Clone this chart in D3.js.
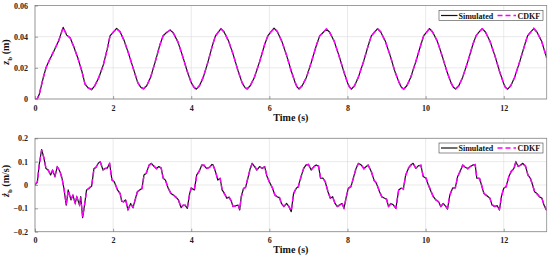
<!DOCTYPE html>
<html><head><meta charset="utf-8">
<script src="https://cdn.jsdelivr.net/npm/d3@7"></script>
<style>
html,body{margin:0;padding:0;background:#fff;}
svg{display:block;font-family:"Liberation Serif","Times New Roman",serif;font-weight:bold;}
</style></head>
<body><svg id="c" width="550" height="259"></svg>
<script>
// ---------- DATA ----------
const xTicks = [0, 2, 4, 6, 8, 10, 12];
const yTicksTop = [0, 0.02, 0.04, 0.06];
const yTickLabelsTop = ["0", "0.02", "0.04", "0.06"];
const yTicksBot = [-0.2, -0.1, 0, 0.1, 0.2];
const yTickLabelsBot = ["\u22120.2", "\u22120.1", "0", "0.1", "0.2"];
const seriesNames = ["Simulated", "CDKF"];

const timePos = [
 0,0.06,0.11,0.2,0.28,0.37,0.47,0.6,0.72,0.81,0.9,1.0,1.11,1.2,1.28,1.36,
 1.45,1.53,1.63,1.75,1.85,1.92,2.0,2.09,2.18,2.29,2.41,2.53,2.63,2.71,
 2.78,2.86,2.96,3.08,3.2,3.28,3.36,3.46,3.54,3.66,3.78,3.9,4.0,4.07,
 4.13,4.21,4.31,4.43,4.55,4.62,4.68,4.76,4.84,4.96,5.08,5.2,5.3,5.37,
 5.43,5.51,5.62,5.75,5.88,5.96,6.03,6.12,6.2,6.32,6.44,6.56,6.66,6.71,
 6.76,6.84,6.95,7.08,7.21,7.29,7.37,7.46,7.54,7.66,7.78,7.9,8.0,8.05,
 8.1,8.18,8.28,8.41,8.54,8.61,8.68,8.77,8.85,8.97,9.09,9.21,9.32,9.38,
 9.44,9.52,9.62,9.75,9.88,9.95,10.02,10.1,10.18,10.3,10.42,10.54,10.65,10.71,
 10.77,10.85,10.95,11.08,11.21,11.29,11.36,11.45,11.53,11.65,11.77,11.89,11.99,12.04,
 12.1,12.18,12.28,12.41,12.54,12.61,12.68,12.77,12.85,12.97,13.1
];
const simPos = [
 0,0.0002,0.003,0.0125,0.02,0.025,0.030,0.037,0.046,0.041,0.0393,0.033,0.0253,0.0178,0.0095,0.0072,
 0.006,0.0085,0.0135,0.022,0.032,0.0405,0.0427,0.0453,0.043,0.037,0.028,0.0185,0.0105,0.0075,
 0.0065,0.0085,0.014,0.024,0.035,0.0405,0.0425,0.0442,0.0425,0.0365,0.0275,0.0175,0.0105,0.0075,
 0.0063,0.0085,0.014,0.024,0.035,0.0405,0.0425,0.0452,0.043,0.037,0.028,0.018,0.0105,0.0075,
 0.0064,0.0085,0.014,0.024,0.035,0.0405,0.0428,0.0455,0.0433,0.037,0.028,0.018,0.0105,0.0077,
 0.0065,0.0085,0.014,0.024,0.035,0.0405,0.0425,0.0448,0.043,0.037,0.028,0.018,0.0105,0.0077,
 0.0063,0.0085,0.014,0.024,0.035,0.0405,0.0425,0.0452,0.043,0.037,0.028,0.018,0.0105,0.0076,
 0.0064,0.0085,0.014,0.024,0.035,0.0405,0.0427,0.0452,0.043,0.037,0.028,0.018,0.0105,0.0076,
 0.0064,0.0085,0.014,0.024,0.035,0.0405,0.0427,0.0452,0.043,0.037,0.028,0.018,0.0105,0.0076,
 0.0063,0.0085,0.014,0.024,0.035,0.0405,0.0427,0.0452,0.043,0.037,0.0265
];
const cdkfPos = [
 0,0.0003,0.0032,0.0127,0.0198,0.0251,0.0302,0.0368,0.0458,0.0412,0.0391,0.0332,0.0251,0.0180,0.0097,0.0071,
 0.0061,0.0084,0.0137,0.0218,0.0322,0.0403,0.0428,0.0451,0.0432,0.0368,0.0282,0.0183,0.0107,0.0074,
 0.0066,0.0086,0.0138,0.0242,0.0348,0.0407,0.0424,0.0443,0.0423,0.0367,0.0273,0.0177,0.0103,0.0076,
 0.0062,0.0086,0.0142,0.0238,0.0352,0.0403,0.0426,0.0450,0.0432,0.0368,0.0282,0.0178,0.0107,0.0074,
 0.0065,0.0084,0.0142,0.0238,0.0352,0.0403,0.0429,0.0453,0.0435,0.0368,0.0282,0.0178,0.0107,0.0076,
 0.0064,0.0086,0.0138,0.0242,0.0348,0.0407,0.0423,0.0450,0.0428,0.0372,0.0278,0.0182,0.0103,0.0078,
 0.0064,0.0084,0.0142,0.0238,0.0352,0.0403,0.0427,0.0450,0.0432,0.0368,0.0282,0.0178,0.0107,0.0075,
 0.0063,0.0086,0.0138,0.0242,0.0348,0.0407,0.0425,0.0454,0.0428,0.0372,0.0278,0.0182,0.0103,0.0077,
 0.0065,0.0084,0.0142,0.0238,0.0352,0.0403,0.0429,0.0450,0.0432,0.0368,0.0282,0.0178,0.0107,0.0075,
 0.0064,0.0086,0.0138,0.0242,0.0348,0.0407,0.0425,0.0454,0.0428,0.0372,0.0263
];

const timeVel = [
 0,0.06,0.11,0.17,0.23,0.28,0.34,0.4,0.45,0.51,0.57,0.64,0.69,0.74,
 0.8,0.85,0.92,0.97,1.03,1.07,1.14,1.17,1.22,1.28,1.32,1.39,1.45,1.51,
 1.56,1.62,1.67,1.74,1.79,1.85,1.91,1.97,2.03,2.11,2.18,2.22,2.27,2.32,
 2.38,2.45,2.51,2.55,2.62,2.68,2.74,2.79,2.85,2.92,2.98,3.05,3.11,3.17,
 3.23,3.28,3.34,3.41,3.48,3.54,3.6,3.67,3.74,3.79,3.85,3.9,3.96,4.0,
 4.08,4.14,4.2,4.27,4.33,4.39,4.47,4.53,4.56,4.62,4.68,4.74,4.79,4.85,
 4.91,4.97,5.03,5.07,5.13,5.2,5.24,5.28,5.34,5.39,5.45,5.51,5.56,5.62,
 5.68,5.75,5.82,5.88,5.94,6.0,6.08,6.14,6.2,6.26,6.31,6.37,6.44,6.5,
 6.56,6.62,6.69,6.74,6.81,6.88,6.94,7.0,7.07,7.14,7.2,7.26,7.31,7.37,
 7.43,7.5,7.56,7.62,7.68,7.74,7.79,7.86,7.91,7.97,8.02,8.09,8.16,8.22,
 8.28,8.35,8.42,8.48,8.53,8.61,8.68,8.74,8.82,8.88,8.95,9.0,9.05,9.11,
 9.17,9.24,9.31,9.37,9.43,9.49,9.56,9.62,9.68,9.75,9.82,9.88,9.94,10.01,
 10.07,10.14,10.2,10.26,10.33,10.39,10.45,10.52,10.56,10.62,10.69,10.76,10.82,10.88,
 10.95,11.02,11.08,11.15,11.21,11.27,11.31,11.38,11.43,11.49,11.55,11.6,11.65,11.7,
 11.77,11.83,11.89,11.94,12.0,12.06,12.13,12.19,12.26,12.31,12.37,12.43,12.49,12.56,
 12.62,12.68,12.74,12.79,12.85,12.91,12.98,13.03,13.09,13.1
];
const simVel = [
 0,0.012,0.09,0.152,0.114,0.071,0.064,0.043,0.064,0.036,0.079,0.057,0.03,-0.014,
 -0.086,-0.021,-0.064,-0.043,-0.079,-0.05,-0.086,-0.05,-0.14,-0.071,-0.021,-0.014,-0.005,0.071,
 0.075,0.093,0.1,0.064,0.071,0.072,0.093,0.021,0.014,-0.021,-0.036,-0.07,-0.071,-0.064,
 -0.107,-0.079,-0.097,-0.071,-0.029,-0.021,-0.014,0.043,0.05,0.086,0.093,0.079,0.071,0.079,
 0.072,0.029,0.021,-0.014,-0.036,-0.043,-0.05,-0.064,-0.097,-0.086,-0.088,-0.1,-0.036,-0.014,
 -0.021,0.043,0.057,0.086,0.083,0.071,0.075,0.088,0.086,0.057,0.021,0.029,-0.021,-0.036,
 -0.057,-0.052,-0.071,-0.093,-0.089,-0.086,-0.107,-0.05,-0.014,-0.011,0.029,0.071,0.093,0.079,
 0.064,0.079,0.071,0.079,0.036,0.014,-0.014,-0.043,-0.05,-0.055,-0.079,-0.093,-0.079,-0.093,
 -0.114,-0.036,-0.014,-0.007,0.036,0.071,0.086,0.089,0.064,0.079,0.086,0.08,0.029,0.03,
 0.014,-0.029,-0.057,-0.05,-0.079,-0.093,-0.086,-0.079,-0.1,-0.05,-0.014,-0.007,0.036,0.071,
 0.093,0.086,0.071,0.079,0.086,0.057,0.021,0.007,-0.029,-0.05,-0.057,-0.06,-0.093,-0.079,
 -0.085,-0.1,-0.021,-0.014,-0.016,0.043,0.071,0.086,0.093,0.071,0.083,0.083,0.036,0.029,
 0,-0.029,-0.05,-0.064,-0.071,-0.093,-0.079,-0.093,-0.103,-0.043,-0.014,-0.011,0.036,0.057,
 0.086,0.075,0.071,0.079,0.086,0.086,0.029,0.029,0,-0.036,-0.043,-0.05,-0.057,-0.086,
 -0.093,-0.088,-0.107,-0.05,-0.014,-0.007,0.036,0.057,0.071,0.1,0.079,0.086,0.093,0.079,
 0.043,0.029,0,-0.029,-0.036,-0.05,-0.057,-0.086,-0.107,-0.1
];
const cdkfVel = [
 0.002,0.014,0.087,0.149,0.116,0.073,0.062,0.045,0.062,0.038,0.077,0.059,0.028,-0.012,
 -0.083,-0.024,-0.062,-0.045,-0.077,-0.052,-0.084,-0.053,-0.136,-0.073,-0.023,-0.012,-0.003,0.068,
 0.077,0.091,0.098,0.066,0.069,0.074,0.091,0.023,0.012,-0.019,-0.038,-0.068,-0.073,-0.062,
 -0.104,-0.081,-0.095,-0.073,-0.031,-0.019,-0.016,0.041,0.052,0.084,0.091,0.081,0.069,0.077,
 0.074,0.031,0.019,-0.012,-0.038,-0.041,-0.052,-0.062,-0.095,-0.088,-0.086,-0.098,-0.038,-0.012,
 -0.019,0.041,0.059,0.084,0.085,0.069,0.077,0.086,0.084,0.059,0.023,0.027,-0.019,-0.038,
 -0.055,-0.054,-0.069,-0.091,-0.091,-0.084,-0.104,-0.052,-0.016,-0.009,0.031,0.069,0.091,0.081,
 0.066,0.077,0.073,0.077,0.038,0.012,-0.012,-0.041,-0.052,-0.053,-0.081,-0.091,-0.081,-0.091,
 -0.111,-0.038,-0.012,-0.009,0.034,0.073,0.084,0.087,0.066,0.077,0.084,0.082,0.031,0.028,
 0.016,-0.027,-0.055,-0.052,-0.077,-0.091,-0.088,-0.077,-0.098,-0.052,-0.016,-0.005,0.034,0.073,
 0.091,0.088,0.069,0.081,0.084,0.059,0.019,0.009,-0.027,-0.052,-0.055,-0.062,-0.091,-0.081,
 -0.083,-0.098,-0.023,-0.012,-0.018,0.041,0.073,0.084,0.091,0.073,0.081,0.085,0.034,0.031,
 0.002,-0.027,-0.052,-0.062,-0.073,-0.091,-0.081,-0.091,-0.1,-0.045,-0.012,-0.013,0.034,0.059,
 0.084,0.077,0.069,0.081,0.084,0.088,0.031,0.027,0.002,-0.034,-0.045,-0.048,-0.059,-0.084,
 -0.091,-0.09,-0.104,-0.052,-0.012,-0.009,0.034,0.059,0.069,0.097,0.081,0.084,0.091,0.081,
 0.041,0.031,-0.002,-0.027,-0.038,-0.048,-0.059,-0.084,-0.104,-0.098
];

// ---------- DRAW ----------
const svg = d3.select("#c");
const xScale = d3.scaleLinear().domain([0, 13.1]).range([35, 546.7]);

function panel(cfg) {
  const g = svg.append("g");
  const [x0, x1] = xScale.range();
  const y = cfg.y;
  const [yb, yt] = y.range();
  const clipId = "clip" + cfg.id;
  svg.append("clipPath").attr("id", clipId).append("rect")
    .attr("x", x0).attr("y", yt).attr("width", x1 - x0).attr("height", yb - yt);

  // grid
  g.append("g").selectAll("line").data(xTicks).join("line")
    .attr("x1", d => xScale(d)).attr("x2", d => xScale(d))
    .attr("y1", yt).attr("y2", yb)
    .attr("stroke", "#dcdcdc").attr("stroke-width", 0.6);
  g.append("g").selectAll("line").data(cfg.yTicks).join("line")
    .attr("y1", d => y(d)).attr("y2", d => y(d))
    .attr("x1", x0).attr("x2", x1)
    .attr("stroke", "#dcdcdc").attr("stroke-width", 0.6);

  // lines
  const line = d3.line().x(d => xScale(d[0])).y(d => y(d[1]));
  const lg = g.append("g").attr("clip-path", `url(#${clipId})`);
  lg.append("path").datum(d3.zip(cfg.t, cfg.sim))
    .attr("d", line).attr("fill", "none").attr("stroke", "#111")
    .attr("stroke-width", 1.2).attr("stroke-linejoin", "round");
  lg.append("path").datum(d3.zip(cfg.t, cfg.est))
    .attr("d", line).attr("fill", "none").attr("stroke", "#ff00ff")
    .attr("stroke-width", 1.5).attr("stroke-dasharray", "5,3");

  // axes frame
  g.append("rect").attr("x", x0).attr("y", yt).attr("width", x1 - x0).attr("height", yb - yt)
    .attr("fill", "none").attr("stroke", "#8a8a8a").attr("stroke-width", 0.8);

  // ticks (inward)
  const xa = d3.axisBottom(xScale).tickValues(xTicks).tickSizeInner(-3).tickSizeOuter(0).tickPadding(6);
  const gx = g.append("g").attr("transform", `translate(0,${yb})`).call(xa);
  gx.select(".domain").remove();
  gx.selectAll("line").attr("stroke", "#666").attr("stroke-width", 0.6);
  gx.selectAll("text").attr("font-size", 8).attr("font-weight", "bold").attr("fill", "#222")
    .attr("font-family", "Liberation Serif");
  const ya = d3.axisLeft(y).tickValues(cfg.yTicks).tickFormat((d, i) => cfg.yLabels[i])
    .tickSizeInner(-3).tickSizeOuter(0).tickPadding(7);
  const gy = g.append("g").attr("transform", `translate(${x0},0)`).call(ya);
  gy.select(".domain").remove();
  gy.selectAll("line").attr("stroke", "#666").attr("stroke-width", 0.6);
  gy.selectAll("text").attr("font-size", 8).attr("font-weight", "bold").attr("fill", "#222")
    .attr("font-family", "Liberation Serif");

  // x label
  g.append("text").attr("x", (x0 + x1) / 2).attr("y", cfg.xLabelY).attr("text-anchor", "middle")
    .attr("font-size", 10).attr("fill", "#111").text("Time (s)");

  // y label
  const yl = g.append("text").attr("transform", `translate(${cfg.yLabelX},${cfg.yLabelY}) rotate(-90)`)
    .attr("text-anchor", "middle").attr("font-size", 10).attr("fill", "#111");
  yl.append("tspan").attr("font-style", "italic").text(cfg.zSym);
  yl.append("tspan").attr("font-size", 7).attr("dy", 2.5).text("b");
  yl.append("tspan").attr("dy", -2.5).text("\u00a0(" + cfg.unit + ")");

  // legend
  const L = g.append("g").attr("transform", `translate(439,${cfg.legY})`);
  L.append("rect").attr("x", 0).attr("y", 0).attr("width", 104).attr("height", 10)
    .attr("fill", "#fff").attr("stroke", "#444").attr("stroke-width", 0.6);
  L.append("line").attr("x1", 2).attr("x2", 18.5).attr("y1", 5).attr("y2", 5)
    .attr("stroke", "#111").attr("stroke-width", 1.2);
  L.append("text").attr("x", 19.5).attr("y", 8).attr("font-size", 8).attr("fill", "#111").text(seriesNames[0]);
  L.append("line").attr("x1", 58.5).attr("x2", 77).attr("y1", 5).attr("y2", 5)
    .attr("stroke", "#ff00ff").attr("stroke-width", 1.5).attr("stroke-dasharray", "5,3");
  L.append("text").attr("x", 78.5).attr("y", 8).attr("font-size", 8).attr("fill", "#111").text(seriesNames[1]);
}

panel({
  id: "top", y: d3.scaleLinear().domain([0, 0.06]).range([99, 5.5]),
  yTicks: yTicksTop, yLabels: yTickLabelsTop,
  t: timePos, sim: simPos, est: cdkfPos,
  xLabelY: 121, yLabelX: 9, yLabelY: 52, zSym: "z", unit: "m", legY: 10.5
});
panel({
  id: "bot", y: d3.scaleLinear().domain([-0.2, 0.2]).range([231.7, 138.3]),
  yTicks: yTicksBot, yLabels: yTickLabelsBot,
  t: timeVel, sim: simVel, est: cdkfVel,
  xLabelY: 253, yLabelX: 9, yLabelY: 181, zSym: "\u017c", unit: "m/s", legY: 143
});
</script></body></html>
